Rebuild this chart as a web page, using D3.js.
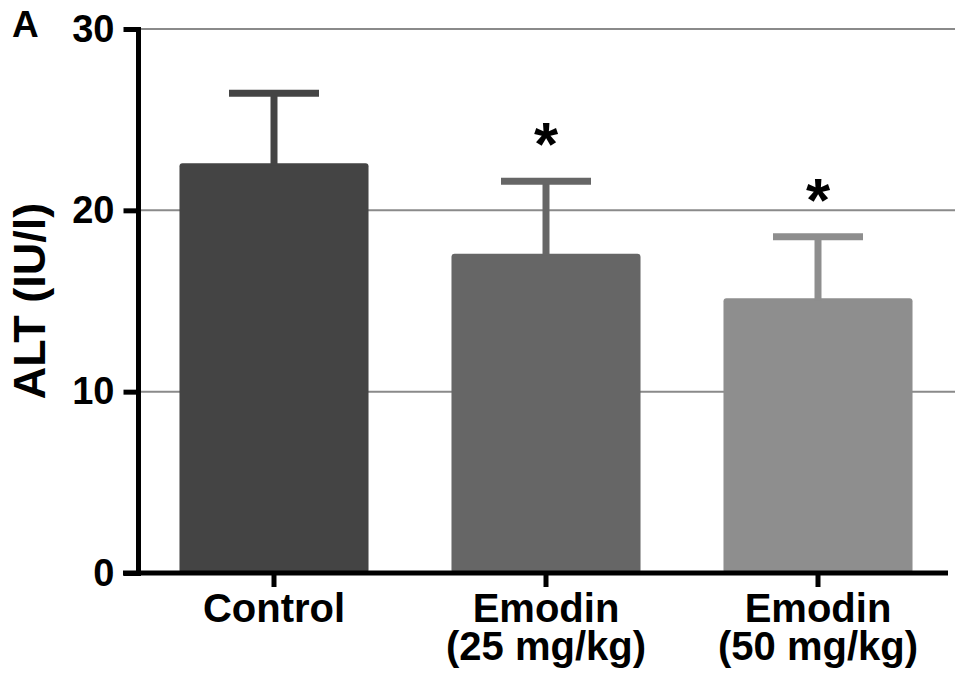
<!DOCTYPE html>
<html><head><meta charset="utf-8">
<script src="https://cdn.jsdelivr.net/npm/d3@7/dist/d3.min.js"></script>
<style>body{margin:0;background:#fff}svg{display:block}</style>
</head><body>
<svg id="c" width="969" height="673"></svg>
<script>
const categories = ["Control", "Emodin|(25 mg/kg)", "Emodin|(50 mg/kg)"];
const means = [22.6, 17.6, 15.15];
const errs = [3.85, 4.0, 3.4];
const signif = [false, true, true];
const barColors = ["#444444", "#666666", "#8e8e8e"];
const yTicks = [0, 10, 20, 30];

const svg = d3.select("#c");
const font = "'Liberation Sans', Arial, sans-serif";
const y = d3.scaleLinear().domain([0, 30]).range([573, 29]);
const x = d3.scaleBand().domain(categories).range([138, 954]).paddingInner(0.305).paddingOuter(0.1525);

// gridlines
svg.append("g").selectAll("line").data(yTicks.filter(d => d > 0)).join("line")
  .attr("x1", 140).attr("x2", 955).attr("y1", d => y(d)).attr("y2", d => y(d))
  .attr("stroke", "#8a8a8a").attr("stroke-width", 2);

// bars
svg.append("g").selectAll("rect").data(categories).join("rect")
  .attr("x", d => x(d)).attr("width", x.bandwidth())
  .attr("y", (d, i) => y(means[i])).attr("height", (d, i) => y(0) - y(means[i]))
  .attr("rx", 3).attr("fill", (d, i) => barColors[i]);

// error bars
const eb = svg.append("g");
categories.forEach((c, i) => {
  const cx = x(c) + x.bandwidth() / 2;
  eb.append("line").attr("x1", cx).attr("x2", cx).attr("y1", y(means[i]) + 2).attr("y2", y(means[i] + errs[i]))
    .attr("stroke", barColors[i]).attr("stroke-width", 7);
  eb.append("line").attr("x1", cx - 45).attr("x2", cx + 45).attr("y1", y(means[i] + errs[i])).attr("y2", y(means[i] + errs[i]))
    .attr("stroke", barColors[i]).attr("stroke-width", 7);
  if (signif[i]) {
    eb.append("text").attr("x", cx).attr("y", y(means[i] + errs[i]) - 16)
      .attr("text-anchor", "middle").attr("font-family", font).attr("font-weight", "bold")
      .attr("font-size", 62).text("*");
  }
});

// y axis
const yAxis = svg.append("g").attr("transform", "translate(138.5,0)")
  .call(d3.axisLeft(y).tickValues(yTicks).tickSize(15).tickPadding(9));
yAxis.select(".domain").attr("stroke", "#000").attr("stroke-width", 5).attr("d", `M0,${y(30) - 2}V${y(0) + 3}`);
yAxis.selectAll(".tick line").attr("stroke", "#000").attr("stroke-width", 5);
yAxis.selectAll(".tick text").attr("font-family", font).attr("font-weight", "bold").attr("font-size", 38).attr("fill", "#000");

// x axis
const xAxis = svg.append("g").attr("transform", "translate(0,573)")
  .call(d3.axisBottom(x).tickSize(14).tickFormat(""));
xAxis.select(".domain").attr("stroke", "#000").attr("stroke-width", 5).attr("d", "M123,0H948");
xAxis.selectAll(".tick line").attr("stroke", "#000").attr("stroke-width", 5);

// x labels
const xl = svg.append("g");
categories.forEach(c => {
  const parts = c.split("|");
  const cx = x(c) + x.bandwidth() / 2;
  parts.forEach((p, j) => xl.append("text").attr("x", cx).attr("y", 622 + j * 38)
    .attr("text-anchor", "middle").attr("font-family", font).attr("font-weight", "bold").attr("font-size", 40).text(p));
});

// y title
svg.append("text").attr("transform", "translate(45,301) rotate(-90)")
  .attr("text-anchor", "middle").attr("font-family", font).attr("font-weight", "bold").attr("font-size", 45)
  .text("ALT (IU/l)");

// panel label
svg.append("text").attr("x", 12).attr("y", 37).attr("font-family", font).attr("font-weight", "bold")
  .attr("font-size", 37).text("A");
</script>
</body></html>
